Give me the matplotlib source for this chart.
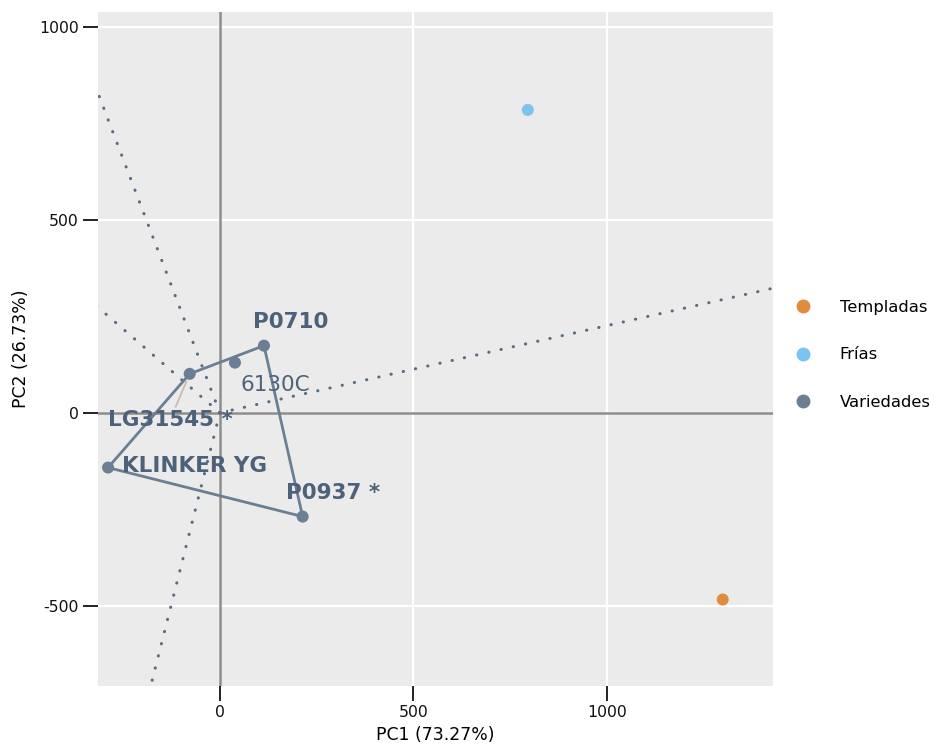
import matplotlib.pyplot as plt
import numpy as np

plt.rcParams['axes.unicode_minus'] = False

# Genotipos (variedades)
gen_names = ['P0710', '6130C', 'LG31545 *', 'KLINKER YG', 'P0937 *']
gen_x = [114, 39, -78, -289, 214]
gen_y = [174, 130, 101, -142, -269]
gen_bold = [True, False, True, True, True]

# Ambientes
env_names = ['Templadas', 'Frías']
env_x = [1300, 796]
env_y = [-484, 785]

# Vértices del polígono (índices de gen_names)
hull_idx = [0, 4, 3, 2]

c_temp = '#df8c3f'
c_fria = '#7cc3ef'
c_var = '#6c7f92'
c_txt = '#4d6279'

fig = plt.figure(figsize=(9.37, 7.44), dpi=100)
ax = fig.add_axes([0.1046, 0.078, 0.7204, 0.906])
ax.set_facecolor('#ebebeb')
for s in ax.spines.values():
    s.set_visible(False)

xlim = (-315, 1430)
ylim = (-708, 1039)
ax.set_xlim(xlim)
ax.set_ylim(ylim)
ax.set_xticks([0, 500, 1000])
ax.set_yticks([-500, 0, 500, 1000])
ax.grid(True, color='white', linewidth=1.6)
ax.set_axisbelow(True)
ax.tick_params(length=11, width=1.3, pad=3, labelsize=11.3, colors='#111111')

ax.axhline(0, color='#8c8c8c', linewidth=1.8, zorder=1)
ax.axvline(0, color='#8c8c8c', linewidth=1.8, zorder=1)

# Rayos perpendiculares a los lados del polígono
gx = np.array(gen_x, dtype=float)
gy = np.array(gen_y, dtype=float)
for k in range(len(hull_idx)):
    a = hull_idx[k]
    b = hull_idx[(k + 1) % len(hull_idx)]
    dx, dy = gx[b] - gx[a], gy[b] - gy[a]
    d = np.array([-dy, dx])
    if d[0] * gx[a] + d[1] * gy[a] < 0:
        d = -d
    d = d / np.hypot(*d) * 3000
    ax.plot([0, d[0]], [0, d[1]], color='#5b6c81', linewidth=2.2,
            linestyle=(0, (0.1, 4)), dash_capstyle='round', zorder=2)

# Polígono
hx = [gen_x[i] for i in hull_idx] + [gen_x[hull_idx[0]]]
hy = [gen_y[i] for i in hull_idx] + [gen_y[hull_idx[0]]]
ax.plot(hx, hy, color=c_var, linewidth=2, zorder=3)

# Puntos
ax.scatter(gen_x, gen_y, s=75, color=c_var, zorder=4, edgecolors='none')
ax.scatter(env_x[0], env_y[0], s=75, color=c_temp, zorder=4, edgecolors='none')
ax.scatter(env_x[1], env_y[1], s=75, color=c_fria, zorder=4, edgecolors='none')

# Etiquetas
offsets = [(19, 17), (29, -16), (-14, -33), (10, 1), (22, 17)]
aligns = ['center', 'center', 'center', 'left', 'center']
for i, name in enumerate(gen_names):
    arrow = None
    if name.startswith('LG'):
        arrow = dict(arrowstyle='-', color='#cbb9b3', lw=1.3,
                     shrinkA=0, shrinkB=6)
    ax.annotate(name, (gen_x[i], gen_y[i]), xytext=offsets[i],
                textcoords='offset points', ha=aligns[i], va='center',
                fontsize=15.5,
                fontweight='bold' if gen_bold[i] else 'normal',
                color=c_txt, zorder=5, arrowprops=arrow)

ax.set_xlabel('PC1 (73.27%)', fontsize=12.4, labelpad=4)
ax.set_ylabel('PC2 (26.73%)', fontsize=12.4, labelpad=6.5)

# Leyenda
handles = [
    plt.Line2D([], [], marker='o', linestyle='', color=c_temp, markersize=9),
    plt.Line2D([], [], marker='o', linestyle='', color=c_fria, markersize=9),
    plt.Line2D([], [], marker='o', linestyle='', color=c_var, markersize=9),
]
fig.legend(handles, ['Templadas', 'Frías', 'Variedades'], frameon=False,
           loc='center left', bbox_to_anchor=(0.8237, 0.523), fontsize=11.8,
           labelspacing=2.0, handletextpad=1.25)

plt.savefig('out.png', dpi=100)
